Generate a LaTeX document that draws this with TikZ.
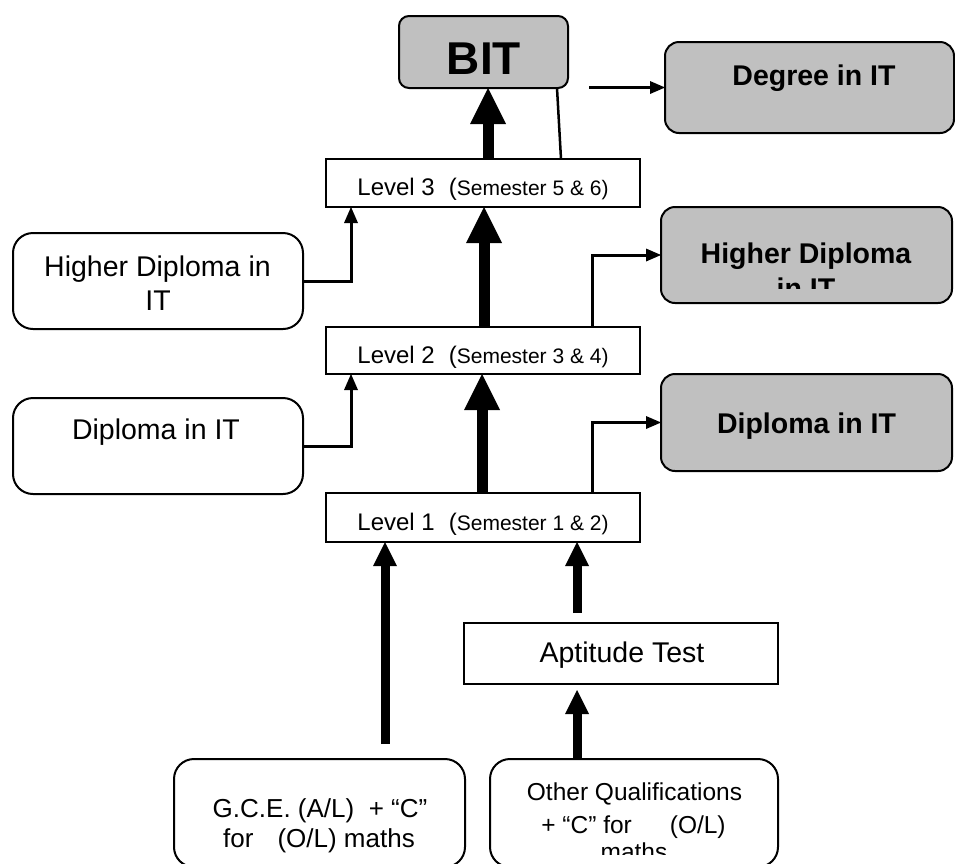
\documentclass[tikz,border=0pt]{standalone}
\usepackage{fontspec}
\setmainfont{Liberation Sans}
\usetikzlibrary{arrows.meta}
\definecolor{boxgray}{HTML}{C0C0C0}
\newcommand\levfont{\fontsize{24}{28}\selectfont}
\newcommand\semfont{\fontsize{21}{25}\selectfont}
\newcommand\boxfont{\fontsize{28.5}{34}\selectfont}
\begin{document}
\begin{tikzpicture}[x=1pt,y=-1pt,
  every node/.style={inner sep=0pt, outer sep=0pt},
  graybox/.style={draw=black, line width=2pt, fill=boxgray, rounded corners=14pt},
  whitebox/.style={draw=black, line width=2pt, fill=white, rounded corners=20pt},
  levelbox/.style={draw=black, line width=2.5pt, fill=white},
  lbl/.style={anchor=base, inner sep=0pt},
  bigarrow/.style={line width=11pt, -{Triangle[width=36pt,length=36pt,line width=0pt]}},
  midarrow/.style={line width=9pt, -{Triangle[width=24pt,length=24pt,line width=0pt]}},
  smallarrow/.style={line width=3pt, -{Triangle[width=14pt,length=16pt,line width=0pt]}},
  rarrow/.style={line width=3pt, -{Triangle[width=13pt,length=15pt,line width=0pt]}},
]
\clip (0,0) rectangle (955,863);
\fill[white] (0,0) rectangle (955,863);

% boxes
\node[graybox, rounded corners=10pt, minimum width=169pt, minimum height=72pt] (bit) at (483.5,52) {};
\node[lbl] (bitt) at (484,74) {\fontsize{46}{52}\selectfont\bfseries BIT};

\node[graybox, minimum width=289pt, minimum height=91pt] (deg) at (809.5,87.5) {};
\node[lbl] (degt) at (814,85) {\boxfont\bfseries Degree in IT};

\node[levelbox, minimum width=314pt, minimum height=48pt] (l3) at (483,183) {};
\node[lbl] (l3t) at (483,195) {\levfont Level 3\hspace{14pt}(\semfont Semester 5 \& 6)};

\node[graybox, minimum width=291pt, minimum height=96pt] (hdr) at (806.5,255) {};
\node[lbl] (hdrt) at (806,263) {\boxfont\bfseries Higher Diploma};
\begin{scope}
  \clip (hdr.north west) rectangle ([yshift=15pt]hdr.south east);
  \node[lbl] (hdrt2) at (806,298) {\boxfont\bfseries in IT};
\end{scope}

\node[whitebox, minimum width=290pt, minimum height=96pt] (hdl) at (158,281) {};
\node[lbl] (hdlt) at (157.5,276) {\boxfont Higher Diploma in};
\node[lbl] (hdlt2) at (158,310) {\boxfont IT};

\node[levelbox, minimum width=314pt, minimum height=47pt] (l2) at (483,350.5) {};
\node[lbl] (l2t) at (483,363) {\levfont Level 2\hspace{14pt}(\semfont Semester 3 \& 4)};

\node[graybox, minimum width=291pt, minimum height=97pt] (dr) at (806.5,422.5) {};
\node[lbl] (drt) at (806.5,433) {\boxfont\bfseries Diploma in IT};

\node[whitebox, minimum width=290pt, minimum height=96pt] (dl) at (158,446) {};
\node[lbl] (dlt) at (156,439) {\boxfont Diploma in IT};

\node[levelbox, minimum width=314pt, minimum height=49pt] (l1) at (483,517.5) {};
\node[lbl] (l1t) at (483,530) {\levfont Level 1\hspace{14pt}(\semfont Semester 1 \& 2)};

\node[levelbox, minimum width=314pt, minimum height=61pt] (apt) at (621,653.5) {};
\node[lbl] (aptt) at (622,662) {\boxfont Aptitude Test};

\node[whitebox, minimum width=291pt, minimum height=108pt] (gce) at (319.5,813) {};
\node[lbl] (gcet) at (320,817) {\fontsize{26}{30}\selectfont G.C.E. (A/L)\ \ + “C”};
\node[lbl] (gcet2) at (319,847) {\fontsize{26}{30}\selectfont for\hspace{24pt}(O/L) maths};

\node[whitebox, minimum width=288pt, minimum height=108pt] (oth) at (634,813) {};
\node[lbl] (otht) at (634.5,800) {\fontsize{24.5}{30}\selectfont Other Qualifications};
\node[lbl] (otht2) at (633.5,833) {\fontsize{24.5}{30}\selectfont + “C” for\hspace{38pt}(O/L)};
\begin{scope}
  \clip (oth.north west) rectangle ([yshift=13pt]oth.south east);
  \node[lbl] (otht3) at (634,860) {\fontsize{24.5}{30}\selectfont maths};
\end{scope}

% thick arrows between levels
\coordinate (a3) at ([xshift=5pt]l3.north);
\draw[bigarrow] (a3) -- (a3 |- bit.south);
\coordinate (a2) at ([xshift=1pt]l2.north);
\draw[bigarrow] (a2) -- (a2 |- l3.south);
\coordinate (a1) at ([xshift=-1pt]l1.north);
\draw[bigarrow] (a1) -- (a1 |- l2.south);

% thin line Level 3 - BIT
\coordinate (b3) at ([xshift=78pt]l3.north);
\coordinate (b4) at ([xshift=73.5pt]bit.south);
\draw[line width=2.5pt] (b3) -- (b4);

% degree arrow
\coordinate (dstart) at (589,87.5);
\draw[rarrow] (dstart) -- (deg.west);

% left entries
\draw[smallarrow] (hdl.east) -| ([xshift=-132pt]l3.south);
\draw[smallarrow] (dl.east) -| ([xshift=-132pt]l2.south);

% right exits
\draw[rarrow] ([xshift=109pt]l2.north) |- (hdr.west);
\draw[rarrow] ([xshift=109pt]l1.north) |- (dr.west);

% bottom arrows
\coordinate (g1) at ([xshift=65.5pt,yshift=15pt]gce.north);
\draw[midarrow] (g1) -- (g1 |- l1.south);
\coordinate (p1) at ([xshift=-44pt,yshift=10pt]apt.north);
\draw[midarrow] (p1) -- (p1 |- l1.south);
\coordinate (o1) at ([xshift=-57pt]oth.north);
\coordinate (o2) at ([xshift=-44pt,yshift=-6pt]apt.south);
\draw[midarrow] (o1) -- (o2);
\end{tikzpicture}
\end{document}
